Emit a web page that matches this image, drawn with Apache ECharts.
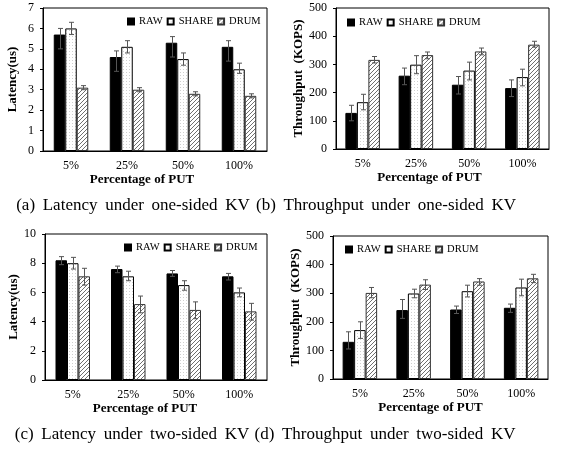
<!DOCTYPE html>
<html><head><meta charset="utf-8">
<script src="https://cdn.jsdelivr.net/npm/echarts@6/dist/echarts.min.js"></script>
<style>html,body{margin:0;padding:0;background:#fff}#c{width:562px;height:450px}</style>
</head><body><div id="c"></div>
<script>
const categories = ['5%', '25%', '50%', '100%'];
const seriesNames = ['RAW', 'SHARE', 'DRUM'];
const captions = ['(a) Latency under one-sided KV', '(b) Throughput under one-sided KV', '(c) Latency under two-sided KV', '(d) Throughput under two-sided KV'];
const yTitles = ['Latency(us)', 'Throughput  (KOPS)', 'Latency(us)', 'Throughput  (KOPS)'];
const xTitle = 'Percentage of PUT';
const yTicksA = [0, 7, 1];
const yTicksB = [0, 500, 100];
const yTicksC = [0, 10, 2];
const yTicksD = [0, 500, 100];

// (a) latency, one-sided
const latOneRaw = [5.7, 4.6, 5.3, 5.1];
const latOneRawLo = [5.0, 3.9, 4.6, 4.4];
const latOneRawHi = [6.0, 4.9, 5.6, 5.4];
const latOneShare = [6.0, 5.1, 4.5, 4.0];
const latOneShareLo = [5.7, 4.8, 4.2, 3.8];
const latOneShareHi = [6.3, 5.4, 4.8, 4.3];
const latOneDrum = [3.1, 3.0, 2.8, 2.7];
const latOneDrumLo = [3.0, 2.9, 2.7, 2.6];
const latOneDrumHi = [3.2, 3.1, 2.9, 2.8];
// (b) throughput, one-sided
const tpOneRaw = [128, 260, 228, 216];
const tpOneRawLo = [100, 228, 195, 186];
const tpOneRawHi = [155, 287, 257, 245];
const tpOneShare = [166, 299, 278, 255];
const tpOneShareLo = [139, 267, 245, 224];
const tpOneShareHi = [194, 331, 308, 283];
const tpOneDrum = [316, 333, 346, 370];
const tpOneDrumLo = [305, 320, 334, 361];
const tpOneDrumHi = [328, 344, 358, 382];
// (c) latency, two-sided
const latTwoRaw = [8.2, 7.6, 7.3, 7.1];
const latTwoRawLo = [7.9, 7.35, 7.1, 6.85];
const latTwoRawHi = [8.45, 7.8, 7.5, 7.3];
const latTwoShare = [8.0, 7.1, 6.5, 6.0];
const latTwoShareLo = [7.6, 6.8, 6.15, 5.7];
const latTwoShareHi = [8.4, 7.45, 6.8, 6.3];
const latTwoDrum = [7.1, 5.2, 4.8, 4.7];
const latTwoDrumLo = [6.5, 4.6, 4.2, 4.1];
const latTwoDrumHi = [7.65, 5.75, 5.35, 5.25];
// (d) throughput, two-sided
const tpTwoRaw = [130, 241, 243, 249];
const tpTwoRawLo = [105, 212, 229, 233];
const tpTwoRawHi = [165, 278, 255, 262];
const tpTwoShare = [171, 299, 307, 320];
const tpTwoShareLo = [142, 284, 287, 291];
const tpTwoShareHi = [200, 314, 328, 349];
const tpTwoDrum = [301, 330, 341, 352];
const tpTwoDrumLo = [284, 313, 328, 337];
const tpTwoDrumHi = [320, 347, 351, 366];

const panels = [
  {vals: [latOneRaw, latOneShare, latOneDrum], lo: [latOneRawLo, latOneShareLo, latOneDrumLo], hi: [latOneRawHi, latOneShareHi, latOneDrumHi], ticks: yTicksA},
  {vals: [tpOneRaw, tpOneShare, tpOneDrum], lo: [tpOneRawLo, tpOneShareLo, tpOneDrumLo], hi: [tpOneRawHi, tpOneShareHi, tpOneDrumHi], ticks: yTicksB},
  {vals: [latTwoRaw, latTwoShare, latTwoDrum], lo: [latTwoRawLo, latTwoShareLo, latTwoDrumLo], hi: [latTwoRawHi, latTwoShareHi, latTwoDrumHi], ticks: yTicksC},
  {vals: [tpTwoRaw, tpTwoShare, tpTwoDrum], lo: [tpTwoRawLo, tpTwoShareLo, tpTwoDrumLo], hi: [tpTwoRawHi, tpTwoShareHi, tpTwoDrumHi], ticks: yTicksD}
];

const FONT = '"Liberation Serif", "Times New Roman", serif';
const grids = [
  {left: 43, right: 295, top: 8, bottom: 299},
  {left: 336, right: 13, top: 8, bottom: 301},
  {left: 45, right: 295, top: 234, bottom: 70},
  {left: 333, right: 14, top: 236, bottom: 71}
];
const yNameGaps = [22, 27, 22, 26];
const xNamePad = [26, 26, 22, 20];
const legendPos = [
  {left: 127, top: 16}, {left: 347, top: 17}, {left: 124, top: 242}, {left: 345, top: 244}
];
const captionPos = [[133, 206], [386, 206], [132, 435], [385, 435]];

function makeHatch() {
  const c = document.createElement('canvas'); c.width = 4; c.height = 4;
  const g = c.getContext('2d');
  g.fillStyle = '#fff'; g.fillRect(0, 0, 4, 4);
  g.strokeStyle = '#6f6f6f'; g.lineWidth = 1;
  g.beginPath();
  g.moveTo(0, 4); g.lineTo(4, 0);
  g.moveTo(-1, 1); g.lineTo(1, -1);
  g.moveTo(3, 5); g.lineTo(5, 3);
  g.stroke();
  return c;
}
function makeDots() {
  const c = document.createElement('canvas'); c.width = 3; c.height = 3;
  const g = c.getContext('2d');
  g.fillStyle = '#fff'; g.fillRect(0, 0, 3, 3);
  g.fillStyle = '#d0d0d0'; g.fillRect(0, 0, 1, 1);
  return c;
}
const hatch = {image: makeHatch(), repeat: 'repeat'};
const dots = {image: makeDots(), repeat: 'repeat'};
const barStyles = [
  {color: '#000', borderColor: '#000', borderWidth: 1},
  {color: dots, borderColor: '#000', borderWidth: 1},
  {color: hatch, borderColor: '#333', borderWidth: 1}
];
const BW = 11.5;

const option = {
  animation: false,
  backgroundColor: '#fff',
  grid: grids.map(g => Object.assign({show: true, borderColor: '#000', borderWidth: 1, backgroundColor: 'transparent'}, g)),
  xAxis: panels.map((p, i) => ({
    type: 'category', gridIndex: i, data: categories,
    axisLine: {lineStyle: {color: '#000', width: 1}},
    axisTick: {show: false},
    axisLabel: {color: '#000', fontFamily: FONT, fontSize: 12, margin: 9},
    name: xTitle, nameLocation: 'middle', nameGap: 22,
    nameTextStyle: {color: '#000', fontFamily: FONT, fontSize: 13, fontWeight: 'bold', padding: [0, xNamePad[i], 0, 0]}
  })),
  yAxis: panels.map((p, i) => ({
    type: 'value', gridIndex: i, min: p.ticks[0], max: p.ticks[1], interval: p.ticks[2],
    splitLine: {show: false},
    axisLine: {show: true, lineStyle: {color: '#000', width: 1}},
    axisTick: {show: true, length: 3, lineStyle: {color: '#000'}},
    axisLabel: {color: '#000', fontFamily: FONT, fontSize: 12, margin: 9},
    name: yTitles[i], nameLocation: 'middle', nameGap: yNameGaps[i] + 2,
    nameTextStyle: {color: '#000', fontFamily: FONT, fontSize: 13, fontWeight: 'bold'}
  })),
  legend: panels.map((p, i) => Object.assign({
    data: seriesNames.map(n => ({name: n, icon: 'rect'})), orient: 'horizontal',
    itemWidth: 6, itemHeight: 6, itemGap: 4, padding: 0,
    selectedMode: false,
    textStyle: {color: '#000', fontFamily: FONT, fontSize: 10.5}
  }, legendPos[i])),
  series: [],
  graphic: captions.map((t, i) => ({
    type: 'text', x: captionPos[i][0], y: captionPos[i][1],
    style: {text: t.split(' ').join(' \u2009'), font: '17px ' + FONT, fill: '#000', textAlign: 'center', textVerticalAlign: 'middle'}
  }))
};

panels.forEach((p, i) => {
  seriesNames.forEach((n, s) => {
    option.series.push({
      type: 'bar', name: n, xAxisIndex: i, yAxisIndex: i,
      data: p.vals[s], barWidth: BW, barGap: '0%',
      itemStyle: barStyles[s], z: 2
    });
  });
  seriesNames.forEach((n, s) => {
    const off = (s - 1) * BW;
    option.series.push({
      type: 'custom', name: n + ' err', xAxisIndex: i, yAxisIndex: i, z: 5,
      data: categories.map((c, k) => [k, p.lo[s][k], p.hi[s][k]]),
      encode: {x: 0, y: [1, 2]},
      renderItem: function (params, api) {
        const lo = api.coord([api.value(0), api.value(1)]);
        const hi = api.coord([api.value(0), api.value(2)]);
        const x = Math.round(lo[0] + off) + 0.5;
        const cap = 2.5;
        const st = {stroke: '#555', lineWidth: 1};
        return {type: 'group', children: [
          {type: 'line', shape: {x1: x, y1: lo[1], x2: x, y2: hi[1]}, style: st},
          {type: 'line', shape: {x1: x - cap, y1: lo[1], x2: x + cap, y2: lo[1]}, style: st},
          {type: 'line', shape: {x1: x - cap, y1: hi[1], x2: x + cap, y2: hi[1]}, style: st}
        ]};
      }
    });
  });
});

const chart = echarts.init(document.getElementById('c'), null, {renderer: 'canvas'});
chart.setOption(option);
</script>
</body></html>
